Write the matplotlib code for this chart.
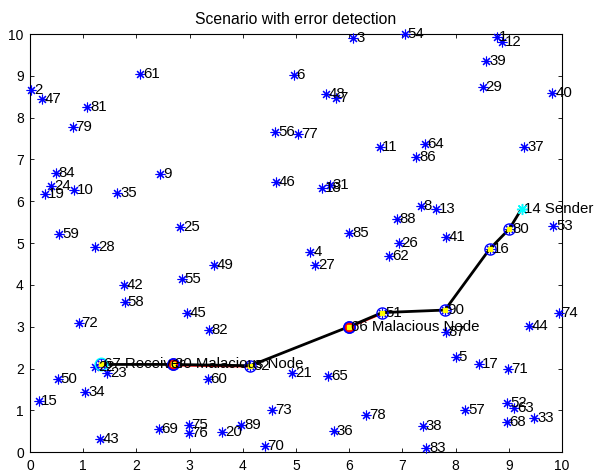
import matplotlib.pyplot as plt
from matplotlib import transforms

plt.rcParams['font.family'] = ['Liberation Sans', 'DejaVu Sans']

# Node ids and their positions.
node_ids = list(range(1, 91))
node_x = [8.77, 0.02, 6.08, 5.27, 8.00, 4.96, 5.76, 7.35, 2.45, 0.83,
          6.57, 8.87, 7.64, 9.24, 0.16, 8.64, 8.44, 5.49, 0.29, 3.61,
          4.93, 1.23, 1.45, 0.40, 2.82, 6.93, 5.36, 1.23, 8.51, 2.68,
          5.63, 4.14, 9.48, 1.04, 1.64, 5.71, 9.29, 7.39, 8.58, 9.82,
          7.82, 1.77, 1.32, 9.38, 2.95, 4.63, 0.23, 5.56, 3.45, 0.52,
          6.62, 8.97, 9.84, 7.04, 2.85, 4.61, 8.18, 1.78, 0.55, 3.34,
          2.07, 6.75, 9.10, 7.42, 5.61, 5.99, 1.33, 8.96, 2.42, 4.41,
          8.99, 0.92, 4.55, 9.94, 2.98, 2.98, 5.04, 6.32, 0.80, 9.01,
          1.08, 3.36, 7.45, 0.48, 6.00, 7.26, 7.82, 6.89, 3.97, 7.80]
node_y = [9.92, 8.66, 9.90, 4.78, 2.28, 9.03, 8.47, 5.88, 6.66, 6.26,
          7.31, 9.82, 5.81, 5.82, 1.23, 4.86, 2.10, 6.32, 6.17, 0.49,
          1.89, 2.05, 1.89, 6.37, 5.38, 5.00, 4.48, 4.90, 8.73, 2.10,
          6.39, 2.07, 0.83, 1.43, 6.21, 0.52, 7.31, 0.63, 9.36, 8.60,
          5.14, 4.00, 0.31, 3.02, 3.33, 6.46, 8.44, 8.56, 4.47, 1.76,
          3.34, 1.19, 5.40, 9.99, 4.14, 7.66, 1.01, 3.60, 5.21, 1.76,
          9.05, 4.70, 1.05, 7.37, 1.82, 3.00, 2.10, 0.72, 0.55, 0.14,
          1.98, 3.08, 1.01, 3.32, 0.65, 0.47, 7.61, 0.90, 7.77, 5.34,
          8.26, 2.93, 0.10, 6.68, 5.25, 7.07, 2.87, 5.58, 0.65, 3.40]

# Route found from sender to receiver, and the nodes flagged as malicious.
route = [14, 80, 16, 90, 51, 66, 32, 30, 67]
malicious = [66, 30]
red_hops = [(30, 32), (66, 51)]
sender, receiver = 14, 67
special_labels = {14: '14 Sender', 67: '67 Receiver',
                  30: '30 Malacious Node', 66: '66 Malacious Node'}

title = 'Scenario with error detection'
ticks = list(range(0, 11))


def pos(n):
    return node_x[n - 1], node_y[n - 1]


fig = plt.figure(figsize=(5.98, 4.73), dpi=100)
ax = fig.add_axes([0.0502, 0.0438, 0.8896, 0.8843])

star = (8, 2, 0)  # MATLAB style asterisk

# All nodes as blue asterisks.
ax.plot(node_x, node_y, linestyle='none', marker=star, color='blue',
        markersize=7, markeredgewidth=0.8, clip_on=False, zorder=3)

# Red hops, drawn a little off the black route so both show.
red_shift = transforms.offset_copy(ax.transData, fig=fig, x=0, y=-1.2, units='dots')
for a, b in red_hops:
    xa, ya = pos(a)
    xb, yb = pos(b)
    ax.plot([xa, xb], [ya, yb], color='red', linewidth=1, transform=red_shift, zorder=4)

# Black route line.
rx = [pos(n)[0] for n in route]
ry = [pos(n)[1] for n in route]
ax.plot(rx, ry, color='black', linewidth=2, zorder=5)

# Circles on route nodes (sender has none).
hops = route[1:]
ax.plot([pos(n)[0] for n in hops], [pos(n)[1] for n in hops], linestyle='none',
        marker='o', markersize=8, markerfacecolor='none', markeredgecolor='blue',
        markeredgewidth=1, zorder=6)
ax.plot([pos(n)[0] for n in malicious], [pos(n)[1] for n in malicious], linestyle='none',
        marker='o', markersize=8, markerfacecolor='red', markeredgecolor='blue',
        markeredgewidth=1.2, zorder=7)
ax.plot(*pos(receiver), linestyle='none', marker='o', markersize=9,
        markerfacecolor='none', markeredgecolor='cyan', markeredgewidth=1, zorder=7)
ax.plot([pos(n)[0] for n in hops], [pos(n)[1] for n in hops], linestyle='none',
        marker='s', markersize=3, color='yellow', zorder=8)

# Sender drawn as a cyan asterisk.
ax.plot(*pos(sender), linestyle='none', marker=star, color='cyan',
        markersize=8, markeredgewidth=1, zorder=8)

# Node labels.
for n in node_ids:
    label = special_labels.get(n, str(n))
    ax.annotate(label, pos(n), xytext=(2, 0), textcoords='offset points',
                ha='left', va='center', fontsize=10.8, color='black', zorder=9)

ax.set_xlim(0, 10)
ax.set_ylim(0, 10)
ax.set_xticks(ticks)
ax.set_yticks(ticks)
ax.tick_params(direction='in', length=3, width=0.6, top=True, right=True,
               labelsize=10, pad=4.5)
for side in ax.spines.values():
    side.set_linewidth(0.8)
ax.set_title(title, fontsize=11.3, pad=7)

fig.savefig('out.png', dpi=100)
